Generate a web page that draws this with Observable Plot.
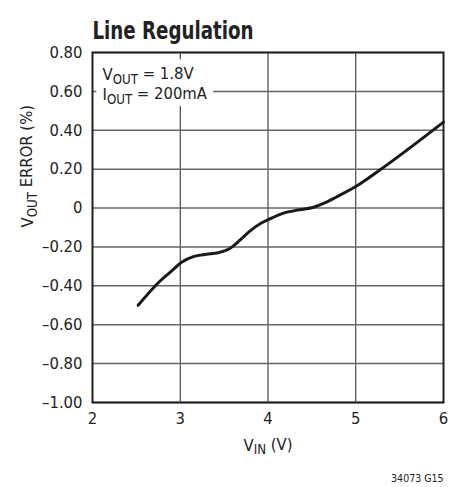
<!DOCTYPE html>
<html>
<head>
<meta charset="utf-8">
<script src="https://cdn.jsdelivr.net/npm/d3@7"></script>
<script src="https://cdn.jsdelivr.net/npm/@observablehq/plot@0.6"></script>
<style>
  html, body { margin: 0; padding: 0; background: #fff; }
  svg text { font-family: "Liberation Sans Narrow", "DejaVu Sans Condensed", "Arial Narrow", sans-serif; }
</style>
</head>
<body>
<div id="chart"></div>
<script>
// Data
const vin = [2.52, 2.77, 2.89, 3.02, 3.15, 3.30, 3.43, 3.55, 3.68, 3.80, 3.92, 4.02, 4.17, 4.36, 4.52, 4.64, 4.78, 5.01, 5.27, 5.58, 6.0];
const vouterr = [-0.50, -0.375, -0.328, -0.277, -0.250, -0.238, -0.230, -0.212, -0.165, -0.116, -0.078, -0.056, -0.027, -0.009, 0.004, 0.025, 0.057, 0.113, 0.194, 0.297, 0.442];
const xTicks = [2, 3, 4, 5, 6];
const yTicks = [-1.0, -0.8, -0.6, -0.4, -0.2, 0, 0.2, 0.4, 0.6, 0.8];
const titleText = "Line Regulation";
const noteLines = ["V{OUT} = 1.8V", "I{OUT} = 200mA"];
const xLabel = "V{IN} (V)";
const yLabel = "V{OUT} ERROR (%)";
const caption = "34073 G15";
const noteBox = [{x1: 2.05, x2: 3.38, y1: 0.523, y2: 0.762}];

const data = vin.map((x, i) => ({x, y: vouterr[i]}));
const fmtY = d => d === 0 ? "0" : (d < 0 ? "\u2013" : "") + Math.abs(d).toFixed(2);

const plot = Plot.plot({
  width: 461,
  height: 487,
  marginLeft: 92,
  marginRight: 18,
  marginTop: 52,
  marginBottom: 85,
  style: {fontFamily: '"Liberation Sans Narrow", "DejaVu Sans Condensed", sans-serif', background: "#fff", overflow: "visible"},
  x: {domain: [2, 6]},
  y: {domain: [-1, 0.8]},
  marks: [
    Plot.gridX(xTicks, {stroke: "#222", strokeOpacity: 1, strokeWidth: 1}),
    Plot.gridY(yTicks, {stroke: "#666", strokeOpacity: 1, strokeWidth: 1.5}),
    Plot.rect(noteBox, {x1: "x1", x2: "x2", y1: "y1", y2: "y2", fill: "#fff"}),
    Plot.frame({stroke: "#222", strokeWidth: 2}),
    Plot.axisX(xTicks, {tickSize: 0, tickPadding: 10, fontSize: 16.5, label: null, tickFormat: d => String(d), fill: "#222"}),
    Plot.axisY(yTicks, {tickSize: 0, tickPadding: 10, fontSize: 16.5, label: null, tickFormat: fmtY, fill: "#222"}),
    Plot.line(data, {x: "x", y: "y", stroke: "#1a1a1a", strokeWidth: 3, curve: "monotone-x"}),
    Plot.text([titleText], {frameAnchor: "top-left", dy: -31, text: d => d, textAnchor: "start", fontSize: 24, fontWeight: "bold", fill: "#222"}),
    Plot.text([noteLines[0]], {frameAnchor: "top-left", dx: 10, dy: 16, text: d => d, textAnchor: "start", fontSize: 16.5, fill: "#222"}),
    Plot.text([noteLines[1]], {frameAnchor: "top-left", dx: 10, dy: 36, text: d => d, textAnchor: "start", fontSize: 16.5, fill: "#222"}),
    Plot.text([xLabel], {frameAnchor: "bottom", dy: 48, text: d => d, fontSize: 16.5, fill: "#222"}),
    Plot.text([yLabel], {frameAnchor: "left", dx: -65, rotate: -90, text: d => d, fontSize: 16.5, fill: "#222"}),
    Plot.text([caption], {frameAnchor: "bottom-right", dy: 79, text: d => d, textAnchor: "end", fontSize: 10.5, fill: "#222"})
  ]
});

// Condense the title to the reference width
d3.select(plot).selectAll("text").filter(function() { return d3.select(this).text() === titleText; })
  .attr("textLength", 161).attr("lengthAdjust", "spacingAndGlyphs");

// Convert "{...}" segments into subscripts
d3.select(plot).selectAll("text").each(function() {
  const el = d3.select(this);
  if (el.selectAll("tspan").size() > 0) return;
  const s = el.text();
  if (!s.includes("{")) return;
  el.text(null);
  const parts = s.split(/(\{[^}]*\})/);
  let prevSub = false;
  parts.forEach(p => {
    if (!p) return;
    if (p.startsWith("{")) {
      el.append("tspan").attr("dy", "0.3em").attr("font-size", "0.8em").text(p.slice(1, -1));
      prevSub = true;
    } else {
      const t = el.append("tspan").text(p);
      if (prevSub) t.attr("dy", "-0.3em");
      prevSub = false;
    }
  });
});

document.getElementById("chart").appendChild(plot);
</script>
</body>
</html>
